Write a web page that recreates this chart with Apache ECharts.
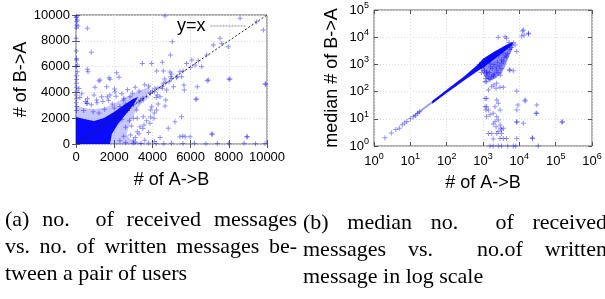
<!DOCTYPE html>
<html>
<head>
<meta charset="utf-8">
<script src="https://cdn.jsdelivr.net/npm/echarts@6/dist/echarts.min.js"></script>
<style>
body { margin: 0; background: #fff; overflow: hidden; }
#chart { width: 605px; height: 299px; position: absolute; left: 0; top: 0; }
.cap { position: absolute; font-family: 'Liberation Serif', 'Times New Roman', serif; font-size: 22px; line-height: 27px; color: #000; white-space: nowrap; }
.cap .j { text-align: justify; text-align-last: justify; }
</style>
</head>
<body>
<div id="chart"></div>
<div class="cap" style="left:5px; top:205px; width:292px">
  <div class="j">(a) no. &nbsp;of received messages</div>
  <div class="j">vs. no. of written messages be-</div>
  <div>tween a pair of users</div>
</div>
<div class="cap" style="left:303px; top:208px; width:304px">
  <div class="j">(b) median no. &nbsp;of received</div>
  <div class="j">messages vs. &nbsp;no.of written</div>
  <div>message in log scale</div>
</div>
<script>
// ---- left plot: linear axes ----
const linTicks = [0, 2000, 4000, 6000, 8000, 10000]
const diagLine = [[0, 0], [10000, 10000]]

// solid core and lighter halo of the dense blob near the origin
const blobCore = [[0, 0], [0, 2090], [420, 1940], [940, 1780], [1470, 2020], [1990, 2480], [2510, 3020],
    [2980, 3490], [3250, 3640], [3040, 3100], [2620, 2330], [2200, 1550], [1880, 775], [1780, 0]]
const blobHalo = [[0, 0], [0, 3000], [420, 2800], [940, 2700], [1570, 2850], [2200, 3300], [2830, 3800],
    [3460, 4200], [3900, 4500], [3800, 4000], [3500, 3300], [3150, 2600], [2850, 1710], [2650, 775],
    [2900, 250], [3600, 60], [3600, 0]]

const pairPoints = [
    [35, 9870], [70, 9610], [35, 9225], [105, 9150], [593, 8970], [803, 7110], [35, 6510], [70, 6120],
    [70, 5600], [593, 5790], [628, 5600], [1728, 5140], [2130, 5530], [3473, 6250], [4520, 6330],
    [4223, 5660], [4572, 5660], [4920, 5580], [5010, 5430], [4955, 5220], [4642, 5040], [5045, 7930],
    [4940, 6900], [4660, 9920], [1780, 5010], [2250, 5170], [3960, 6250],
    [7540, 8190], [7975, 7540], [8590, 9740], [9460, 9480], [9810, 8840], [8060, 5040], [6930, 4960],
    [6320, 3490], [9900, 4650], [5530, 2120], [4830, 1220], [5440, 570], [5710, 570], [5970, 570],
    [7100, 775], [8940, 570],
    [5790, 6250], [6060, 6510], [6230, 6120], [5440, 5600], [6580, 5990], [6840, 6900], [7190, 7670],
    [7630, 7800], [5530, 5220], [5100, 4440], [4570, 4700], [4750, 4190], [4140, 4320], [3870, 3930],
    [4400, 3670], [3520, 3410], [3960, 2890], [4220, 2640], [4660, 2950], [3180, 2640], [3520, 2120],
    [3870, 1600], [3350, 1340], [3000, 1990], [2830, 3670], [2480, 3410], [2040, 4050], [1780, 3800],
    [1345, 3670], [1080, 3410], [1610, 4440], [995, 4390], [560, 3150], [1257, 4960],
    [5270, 5140], [5650, 4570], [5670, 4190], [6350, 4440], [6870, 4910], [8010, 5010], [9930, 4630],
    [6270, 3460], [5180, 1730], [5590, 620], [7140, 750], [8970, 570],
    [1200, 4880], [2020, 4260], [1640, 3670], [940, 3800], [590, 3150], [2510, 3540], [2950, 3930],
    [3390, 3410], [3910, 2640], [4080, 1990], [3560, 1470], [3210, 950], [2860, 700], [4260, 3800],
    [4520, 4320], [4870, 4830], [4700, 3410],
    [2500, 2550], [2800, 2750], [3000, 3050], [3300, 3250], [3500, 3550], [3700, 3650], [3900, 3950],
    [4100, 4050], [4300, 4350], [4500, 4450], [4700, 4750], [5000, 5050], [5300, 5250], [5600, 5650],
    [6000, 5950], [6400, 6450],
    [20, 2600], [40, 2900], [15, 3200], [30, 3500], [10, 3800], [50, 4100], [25, 4400], [15, 4700],
    [35, 5000], [20, 5300], [10, 6000], [30, 6600], [15, 7200], [10, 8200], [20, 9000], [40, 9500],
    [10, 9800],
    [3000, 60], [3400, 30], [3800, 80], [4200, 40], [4600, 20], [5000, 60], [5600, 30], [6200, 50],
    [6800, 20], [7400, 40], [8000, 30], [8800, 50], [9400, 20], [9900, 40], [2600, 120], [3100, 150],
    [200, 3600], [500, 3300], [800, 3050], [1100, 3200], [1400, 3300], [1700, 3400], [2100, 3700],
    [2400, 3900], [2700, 4200], [3100, 4400], [3300, 4100], [3600, 4600], [3800, 4500], [4000, 4100],
    [4200, 3600], [4300, 3100], [4100, 2400], [3900, 2100], [3700, 1800], [3500, 1200], [3300, 800],
    [3100, 500], [3600, 300], [4100, 200], [4400, 500], [3800, 900], [600, 3500], [300, 3900],
    [150, 4300], [1900, 3100], [2300, 2900], [2600, 3100], [3200, 2000], [2900, 1400], [3000, 300],
    [2400, 1900], [2600, 1300], [2500, 600], [2300, 250], [2800, 1800], [2700, 2600], [1500, 2700],
    [900, 2500], [400, 2600], [1200, 2400], [2000, 2800]
]

// ---- right plot: log axes ----
const bandLight = [[12, 11.5], [60, 55], [60, 68], [12, 13.5]]
const bandSolid = [[40, 36], [100, 88], [300, 255], [700, 560], [1000, 760], [2000, 1500], [4000, 3100],
    [6500, 5300], [6800, 6600], [4000, 4900], [2000, 2900], [1000, 1600], [700, 950], [300, 360],
    [100, 118], [40, 45]]
const cloud = [[800, 1000], [900, 600], [1100, 350], [1500, 250], [2200, 300], [3200, 450], [4000, 800],
    [4800, 1500], [6000, 3000], [7000, 5000], [6000, 6500], [4500, 5500], [3000, 3800], [2000, 2600],
    [1200, 1500]]

const medianPoints = [
    [2630, 10000], [4470, 9120], [12300, 17000], [17800, 13900], [13500, 12000], [8500, 2950],
    [5300, 620], [6800, 590], [1260, 540], [1410, 310], [1560, 270], [1140, 230], [1910, 355],
    [2390, 203], [1410, 115], [1740, 151], [2000, 174], [2290, 132], [2950, 144], [3630, 144],
    [1260, 56], [2390, 49], [2630, 37], [2140, 28], [2950, 21], [1910, 16], [1410, 21], [1140, 28],
    [1260, 12], [2390, 12], [2630, 9.1], [1910, 6.4], [2290, 5.1], [3090, 4.5], [2630, 3.4],
    [3240, 2.9], [1410, 2.9], [1740, 2.9], [1910, 1.8], [3630, 1.9], [4470, 1.9], [8500, 21],
    [8500, 7.8], [14400, 49], [30200, 32], [28800, 16], [155000, 7.8], [22900, 2.0], [33100, 1],
    [1560, 1], [1910, 1], [3240, 1], [4790, 1], [7940, 1],
    [1260, 230], [1140, 56], [1260, 28], [1200, 21], [1560, 14], [2140, 7.8], [2950, 5.9],
    [3240, 3.9], [3630, 4.5], [2390, 2.9], [2950, 1.9], [8500, 105], [14400, 45], [9100, 32],
    [8500, 7.4], [12900, 6.8], [30200, 16], [22900, 1.9], [8500, 1.9], [148000, 7.4], [2630, 1],
    [6800, 1],
    [4060, 10400], [11700, 11000], [12900, 18400], [17800, 13100], [7600, 5130], [5500, 620],
    [4470, 1910], [3240, 1450], [2390, 620], [1910, 410], [1260, 470], [1020, 830], [1560, 1100],
    [2, 2], [3, 3], [4, 4], [5, 4.5], [6, 6], [7, 7], [8, 8], [10, 10], [12, 12], [14, 13],
    [16, 16], [18, 18],
    [1100, 600], [1300, 400], [1500, 500], [1700, 350], [1800, 700], [2100, 450], [2300, 800],
    [2600, 500], [2800, 900], [3100, 700], [3300, 1100], [3600, 1300], [3800, 1800], [4200, 2200],
    [4800, 2500], [2000, 1000], [1600, 800], [2500, 1200], [1200, 300], [3000, 400], [5500, 3500],
    [6000, 4200], [3500, 2600], [2700, 2100], [5200, 6400], [7000, 6300], [800, 1000], [900, 500]
]

const sans = "'Liberation Sans', Arial, sans-serif"
const plus = 'path://M2,0H3V2H5V3H3V5H2V3H0V2H2Z'
const markColor = 'rgba(0,0,255,0.55)'

function polygon(points, xi, yi, fill, z) {
    return {
        type: 'custom',
        xAxisIndex: xi,
        yAxisIndex: yi,
        data: points,
        silent: true,
        clip: true,
        z: z,
        renderItem: (params, api) => {
            if (params.dataIndex !== 0) return
            return {
                type: 'polygon',
                shape: { points: points.map(p => api.coord(p)) },
                style: { fill: fill }
            }
        }
    }
}

function scatter(points, xi, yi) {
    return {
        type: 'scatter',
        xAxisIndex: xi,
        yAxisIndex: yi,
        data: points,
        symbol: plus,
        symbolSize: 5,
        itemStyle: { color: markColor },
        silent: true,
        z: 3
    }
}

const tick = { inside: true, length: 4, lineStyle: { color: '#555' } }
const grid = { lineStyle: { color: '#ddd', type: [1, 2] } }
const label = { fontSize: 13, color: '#000', fontFamily: sans }
const nameStyle = { fontSize: 18, color: '#000', fontFamily: sans }

const powLabel = {
    ...label,
    formatter: v => '{n|10}{s|' + Math.round(Math.log10(v)) + '}',
    rich: {
        n: { fontSize: 13, fontFamily: sans, color: '#000' },
        s: { fontSize: 9, fontFamily: sans, color: '#000', padding: [0, 0, 9, 0] }
    }
}

function linAxis(gi, pos, extra) {
    return Object.assign({
        gridIndex: gi, type: 'value', position: pos, min: 0, max: 10000, interval: 2000,
        axisLine: { show: false }, axisTick: tick, axisLabel: { show: false }, splitLine: { show: false }
    }, extra)
}

function logAxis(gi, pos, max, extra) {
    return Object.assign({
        gridIndex: gi, type: 'log', logBase: 10, position: pos, min: 1, max: max,
        axisLine: { show: false }, axisTick: tick, axisLabel: { show: false }, splitLine: { show: false }
    }, extra)
}

const chart = echarts.init(document.getElementById('chart'))

chart.setOption({
    animation: false,
    grid: [
        { left: 76, top: 15, width: 191, height: 129, show: true, borderColor: '#666', borderWidth: 1 },
        { left: 374, top: 10, width: 218, height: 136, show: true, borderColor: '#666', borderWidth: 1 }
    ],
    legend: {
        data: ['y=x'],
        left: 172,
        top: 12,
        align: 'right',
        itemWidth: 36,
        itemHeight: 10,
        textStyle: { fontSize: 18, color: '#000', fontFamily: sans },
        itemStyle: { opacity: 0 },
        lineStyle: { color: '#888', type: [2, 1], width: 1 }
    },
    xAxis: [
        linAxis(0, 'bottom', {
            axisLabel: { ...label, margin: 7, formatter: v => linTicks.includes(v) ? String(v) : '' },
            splitLine: grid,
            name: '# of A->B', nameLocation: 'middle', nameGap: 27, nameTextStyle: nameStyle
        }),
        linAxis(0, 'top'),
        logAxis(1, 'bottom', 1e6, {
            axisLabel: { ...powLabel, margin: 6 },
            splitLine: grid,
            name: '# of A->B', nameLocation: 'middle', nameGap: 28, nameTextStyle: nameStyle
        }),
        logAxis(1, 'top', 1e6)
    ],
    yAxis: [
        linAxis(0, 'left', {
            axisLabel: { ...label, margin: 6, formatter: v => linTicks.includes(v) ? String(v) : '' },
            splitLine: grid,
            name: '# of B->A', nameLocation: 'middle', nameGap: 46, nameTextStyle: nameStyle
        }),
        linAxis(0, 'right'),
        logAxis(1, 'left', 1e5, {
            axisLabel: { ...powLabel, margin: 5 },
            splitLine: grid,
            name: 'median # of B->A', nameLocation: 'middle', nameGap: 33, nameTextStyle: nameStyle
        }),
        logAxis(1, 'right', 1e5)
    ],
    series: [
        polygon(blobHalo, 0, 0, 'rgba(0,0,255,0.22)', 1),
        polygon(blobCore, 0, 0, 'rgba(0,0,255,0.95)', 2),
        scatter(pairPoints, 0, 0),
        {
            name: 'y=x',
            type: 'line',
            xAxisIndex: 0,
            yAxisIndex: 0,
            data: diagLine,
            symbol: 'none',
            lineStyle: { color: '#222', width: 1, type: [2, 2] },
            silent: true,
            z: 4
        },
        polygon(cloud, 2, 2, 'rgba(0,0,255,0.45)', 1),
        polygon(bandLight, 2, 2, 'rgba(70,70,255,0.55)', 2),
        polygon(bandSolid, 2, 2, 'rgba(0,0,255,0.95)', 2),
        scatter(medianPoints, 2, 2)
    ]
})
</script>
</body>
</html>
